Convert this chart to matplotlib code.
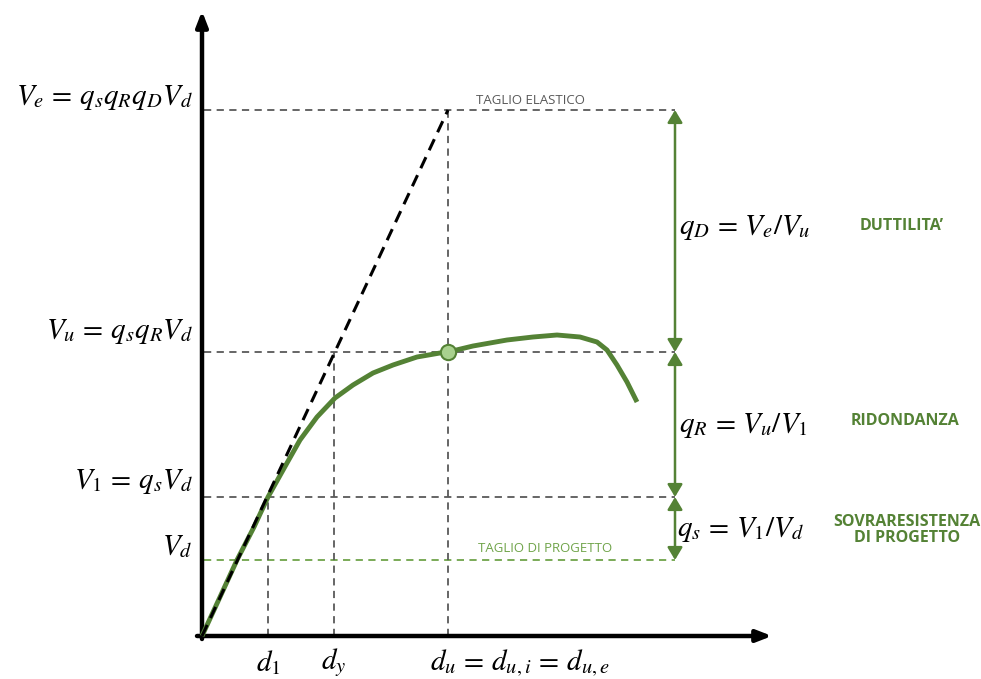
import matplotlib
matplotlib.use("Agg")
import matplotlib.pyplot as plt
from matplotlib.patches import FancyArrowPatch

plt.rcParams['mathtext.fontset'] = 'stix'

# ---- data (arbitrary units) ----
V_d, V_1, V_u, V_e = 76, 139, 284, 526
d_1, d_y, d_u = 66, 132, 246
curve_x = [0, 18, 35, 52, 66, 85, 98, 115, 133, 151, 171, 191, 215, 238, 246,
           271, 305, 331, 355, 378, 395, 405, 415, 425, 435]
curve_y = [0, 39, 76, 109, 139, 173, 196, 219, 238, 251, 263, 271, 279, 283, 284,
           290, 296, 299, 301, 299, 294, 286, 271, 254, 234]
x_max, y_max = 570, 625
q_x = 473

GREEN = '#548235'
LGREEN = '#70A44A'
GRAY = '#595959'

fig = plt.figure(figsize=(9.81, 6.79), dpi=100)
ax = fig.add_axes([0, 0, 1, 1])
ax.set_xlim(-202, 779)
ax.set_ylim(-43, 636)
ax.axis('off')

# axes arrows
ax.annotate('', xy=(x_max, 0), xytext=(-5, 0),
            arrowprops=dict(arrowstyle='-|>,head_length=0.9,head_width=0.35', lw=3.2, color='black', shrinkA=0, shrinkB=0))
ax.annotate('', xy=(0, y_max), xytext=(0, -3),
            arrowprops=dict(arrowstyle='-|>,head_length=0.9,head_width=0.35', lw=3.2, color='black', shrinkA=0, shrinkB=0))

dash = dict(lw=1.3, dashes=(4, 3))
# horizontal guides
for v in [V_e, V_u, V_1]:
    ax.plot([2, q_x], [v, v], color=GRAY, **dash)
ax.plot([2, q_x], [V_d, V_d], color=LGREEN, **dash)
# vertical guides
ax.plot([d_1, d_1], [0, V_1], color=GRAY, **dash)
ax.plot([d_y, d_y], [0, V_u], color=GRAY, **dash)
ax.plot([d_u, d_u], [0, V_e], color=GRAY, **dash)

# capacity curve
ax.plot(curve_x, curve_y, color=GREEN, lw=3.5, solid_capstyle='butt', solid_joinstyle='round', zorder=3)
ax.plot([d_u], [V_u], 'o', ms=11, mfc='#A9D18E', mec=GREEN, mew=1.5, zorder=5)

# elastic line
ax.plot([0, d_u], [0, V_e], color='black', lw=2.2, dashes=(4, 2.5), zorder=4)

# q arrows
for lo, hi in [(V_u, V_e), (V_1, V_u), (V_d, V_1)]:
    a = FancyArrowPatch((q_x, lo), (q_x, hi), arrowstyle='<|-|>,head_length=5,head_width=3',
                        color=GREEN, lw=1.8, shrinkA=0, shrinkB=0, mutation_scale=1.5)
    ax.add_patch(a)

fs = 21
# left labels
ax.text(-9, V_e + 12, r'$V_e \,=\, q_s q_R q_D V_d$', ha='right', va='center', fontsize=fs)
ax.text(-9, V_u + 20, r'$V_u \,=\, q_s q_R V_d$', ha='right', va='center', fontsize=fs)
ax.text(-9, V_1 + 16, r'$V_1 \,=\, q_s V_d$', ha='right', va='center', fontsize=fs)
ax.text(-9, V_d + 14, r'$V_d$', ha='right', va='center', fontsize=fs)

# bottom labels
ax.text(d_1, -27, r'$d_1$', ha='center', va='center', fontsize=fs)
ax.text(d_y, -27, r'$d_y$', ha='center', va='center', fontsize=fs)
ax.text(d_u + 72, -27, r'$d_u \,=\, d_{u,i} \,=\, d_{u,e}$', ha='center', va='center', fontsize=fs)

# right formulas
ax.text(q_x + 4, 408, r'$q_D \,=\, V_e/V_u$', ha='left', va='center', fontsize=fs)
ax.text(q_x + 4, 211, r'$q_R \,=\, V_u/V_1$', ha='left', va='center', fontsize=fs)
ax.text(q_x + 2, 106, r'$q_s \,=\, V_1/V_d$', ha='left', va='center', fontsize=fs)

# word labels
lab = dict(fontfamily='Open Sans', fontweight='bold', color=GREEN, fontsize=11.5, ha='center', va='center')
ax.text(700, 410, "DUTTILITA’", **lab)
ax.text(703, 215, 'RIDONDANZA', **lab)
ax.text(705, 106, 'SOVRARESISTENZA\nDI PROGETTO', linespacing=1.05, **lab)

ax.text(328, 535, 'TAGLIO ELASTICO', fontfamily='Open Sans', color=GRAY, fontsize=9.5,
        ha='center', va='center')
ax.text(343, 87, 'TAGLIO DI PROGETTO', fontfamily='Open Sans', color=LGREEN, fontsize=9.5,
        ha='center', va='center')

fig.savefig('out.png', dpi=100)
